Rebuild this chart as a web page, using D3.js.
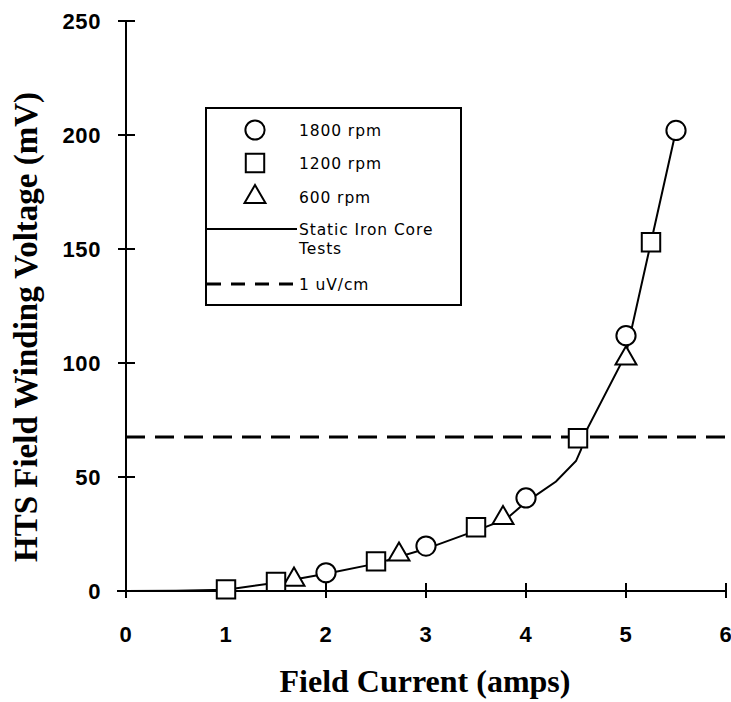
<!DOCTYPE html>
<html>
<head>
<meta charset="utf-8">
<script src="https://cdn.jsdelivr.net/npm/d3@7"></script>
<style>
  body { margin: 0; background: #fff; }
  svg { display: block; }
</style>
</head>
<body>
<div id="chart"></div>
<script>
var rpm1800 = [[2, 8], [3, 19.7], [4, 40.8], [5, 112], [5.5, 202]];
var rpm1200 = [[1, 0.7], [1.5, 4], [2.5, 13], [3.5, 28], [4.52, 67], [5.25, 153]];
var rpm600 = [[1.68, 5], [2.73, 16], [3.77, 32], [5, 102]];
// static iron core test curve
var staticCurve = [[0, 0], [0.5, 0.1], [1, 0.6], [1.5, 3.6], [2, 7.6], [2.5, 12], [3, 18.5],
    [3.5, 26.5], [3.8, 31.5], [4, 39], [4.3, 48], [4.5, 57], [4.55, 62], [4.6, 70], [5, 104],
    [5.25, 153], [5.5, 202]];
var limit = 67.5; // 1 uV/cm criterion
var xTicks = [0, 1, 2, 3, 4, 5, 6];
var yTicks = [0, 50, 100, 150, 200, 250];

var W = 731, H = 702;
var margin = {top: 21, right: 5, bottom: 111, left: 126};

var svg = d3.select('#chart').append('svg')
    .attr('width', W)
    .attr('height', H);

var x = d3.scaleLinear().domain([0, 6]).range([margin.left, 726]);
var y = d3.scaleLinear().domain([0, 250]).range([591, margin.top]);

var tickFont = 'bold 22px "Liberation Sans", Arial, sans-serif';
var titleFont = 'bold 32px "Liberation Serif", "Times New Roman", serif';

// axes
var gx = svg.append('g').attr('transform', 'translate(0,' + y(0) + ')');
gx.append('line').attr('x1', 117).attr('x2', x(6)).attr('stroke', '#000').attr('stroke-width', 2);
gx.selectAll('.tk').data(xTicks).enter().append('line')
    .attr('x1', function(d) { return x(d); }).attr('x2', function(d) { return x(d); })
    .attr('y1', -8).attr('y2', 7).attr('stroke', '#000').attr('stroke-width', 2);
gx.selectAll('.lb').data(xTicks).enter().append('text')
    .attr('x', function(d) { return x(d); })
    .attr('y', 51)
    .attr('text-anchor', 'middle')
    .style('font', tickFont).style('letter-spacing', '0.6px')
    .text(function(d) { return d; });

var gy = svg.append('g').attr('transform', 'translate(' + x(0) + ',0)');
gy.append('line').attr('y1', y(250)).attr('y2', y(0)).attr('stroke', '#000').attr('stroke-width', 2);
gy.selectAll('.tk').data(yTicks).enter().append('line')
    .attr('y1', function(d) { return y(d); }).attr('y2', function(d) { return y(d); })
    .attr('x1', -8).attr('x2', 9).attr('stroke', '#000').attr('stroke-width', 2);
gy.selectAll('.lb').data(yTicks).enter().append('text')
    .attr('x', -25)
    .attr('y', function(d) { return y(d) + 8; })
    .attr('text-anchor', 'end')
    .style('font', tickFont).style('letter-spacing', '0.6px')
    .text(function(d) { return d; });

// titles
svg.append('text')
    .attr('x', 425).attr('y', 692)
    .attr('text-anchor', 'middle')
    .style('font', titleFont)
    .text('Field Current (amps)');
svg.append('text')
    .attr('transform', 'translate(37,327) rotate(-90)')
    .attr('text-anchor', 'middle')
    .style('font', 'bold 33px "Liberation Serif", "Times New Roman", serif')
    .text('HTS Field Winding Voltage (mV)');

// 1 uV/cm criterion
svg.append('line')
    .attr('x1', x(0)).attr('x2', x(6))
    .attr('y1', y(limit)).attr('y2', y(limit))
    .attr('stroke', '#000').attr('stroke-width', 3)
    .attr('stroke-dasharray', '19,10');

// static curve
var line = d3.line().x(function(d) { return x(d[0]); }).y(function(d) { return y(d[1]); });
svg.append('path').datum(staticCurve)
    .attr('d', line)
    .attr('fill', 'none').attr('stroke', '#000').attr('stroke-width', 2);

// markers
function drawMarkers(data, type) {
    var g = svg.append('g');
    var sel = g.selectAll('path').data(data).enter().append('path')
        .attr('transform', function(d) { return 'translate(' + x(d[0]) + ',' + y(d[1]) + ')'; });
    styleMarker(sel, type);
}
function styleMarker(sel, type) {
    var sym = type === 'circle' ? d3.symbolCircle : type === 'square' ? d3.symbolSquare : d3.symbolTriangle;
    var size = type === 'circle' ? 290 : type === 'square' ? 340 : 190;
    sel.attr('d', d3.symbol().type(sym).size(size)())
        .attr('fill', '#fff').attr('stroke', '#000').attr('stroke-width', 2);
}
drawMarkers(rpm600, 'triangle');
drawMarkers(rpm1200, 'square');
drawMarkers(rpm1800, 'circle');

// legend
var lg = svg.append('g');
lg.append('rect').attr('x', 206).attr('y', 108).attr('width', 255).attr('height', 197)
    .attr('fill', '#fff').attr('stroke', '#000').attr('stroke-width', 2);
var legFont = '15.5px "DejaVu Sans", Verdana, sans-serif';
var legItems = [
    {type: 'circle', label: ['1800 rpm'], y: 130},
    {type: 'square', label: ['1200 rpm'], y: 163},
    {type: 'triangle', label: ['600 rpm'], y: 197},
    {type: 'line', label: ['Static Iron Core', 'Tests'], y: 229},
    {type: 'dash', label: ['1 uV/cm'], y: 284}
];
legItems.forEach(function(it) {
    if (it.type === 'line' || it.type === 'dash') {
        lg.append('line').attr('x1', 207).attr('x2', 297).attr('y1', it.y).attr('y2', it.y)
            .attr('stroke', '#000').attr('stroke-width', it.type === 'dash' ? 3 : 2)
            .attr('stroke-dasharray', it.type === 'dash' ? '14,10' : null);
    } else {
        var p = lg.append('path').attr('transform', 'translate(255,' + it.y + ')');
        styleMarker(p, it.type);
    }
    it.label.forEach(function(t, i) {
        lg.append('text').attr('x', 299).attr('y', it.y + 6 + i * 19)
            .style('font', legFont).style('letter-spacing', '0.9px')
            .text(t);
    });
});
</script>
</body>
</html>
